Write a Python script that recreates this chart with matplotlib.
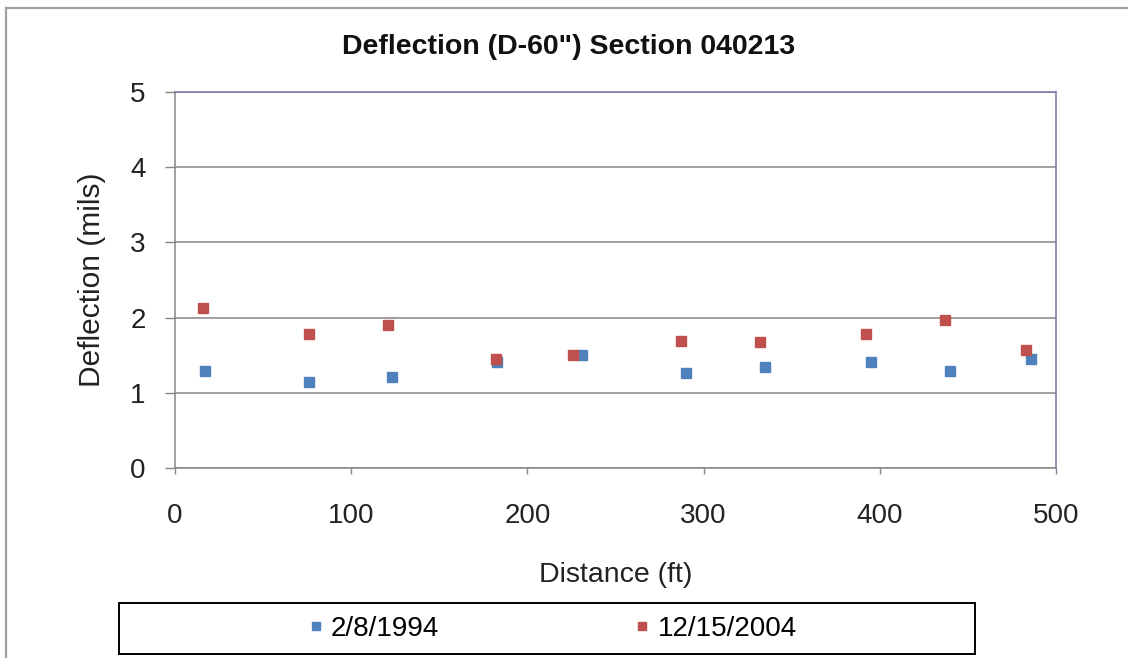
import numpy as np
import matplotlib
matplotlib.use("Agg")
import matplotlib.pyplot as plt
from matplotlib.lines import Line2D
from matplotlib.patches import Rectangle

plt.rcParams['font.family'] = ['Liberation Sans', 'DejaVu Sans']

# data
dist_1994 = [17, 76, 123, 183, 231, 290, 335, 395, 440, 486]
defl_1994 = [1.29, 1.15, 1.21, 1.41, 1.50, 1.26, 1.34, 1.41, 1.29, 1.45]
dist_2004 = [16, 76, 121, 182, 226, 287, 332, 392, 437, 483]
defl_2004 = [2.13, 1.78, 1.90, 1.45, 1.50, 1.69, 1.67, 1.78, 1.97, 1.57]
labels = ['2/8/1994', '12/15/2004']
colors = ['#4F81BD', '#C0504D']

W, H = 1128, 658
fig = plt.figure(figsize=(W / 100, H / 100), dpi=100)
ax = fig.add_axes([175 / W, 1 - 468 / H, (1056 - 175) / W, (468 - 92) / H])

ax.plot(dist_1994, defl_1994, 's', ms=7, color=colors[0], mec=colors[0], label=labels[0])
ax.plot(dist_2004, defl_2004, 's', ms=7, color=colors[1], mec=colors[1], label=labels[1])

ax.set_xlim(0, 500)
ax.set_ylim(0, 5)
ax.set_xticks(np.arange(0, 501, 100))
ax.set_yticks(np.arange(0, 6, 1))
ax.yaxis.grid(True, color='#868686', lw=1.1)
ax.set_axisbelow(True)

for s in ['left', 'bottom']:
    ax.spines[s].set_color('#868686')
    ax.spines[s].set_linewidth(1.1)
for s in ['top', 'right']:
    ax.spines[s].set_color('#7f6fa8')
    ax.spines[s].set_linewidth(1.1)

ax.tick_params(axis='x', direction='out', length=4.5, width=1, color='#868686',
               pad=21, labelsize=20, labelcolor='#222222')
ax.tick_params(axis='y', direction='out', length=7, width=1, color='#868686',
               pad=14, labelsize=20, labelcolor='#222222')

ax.set_xlabel('Distance (ft)', fontsize=20.5, color='#222222')
ax.xaxis.set_label_coords(0.5, -0.25)
ax.set_ylabel('Deflection (mils)', fontsize=21.5, color='#222222')
ax.yaxis.set_label_coords(-0.078, 0.5)

fig.text(569 / W, 1 - 47 / H, 'Deflection (D-60") Section 040213', fontsize=20.5,
         fontweight='bold', ha='center', va='center', color='#111111')

# outer chart frame (top and left edges visible)
fig.add_artist(Line2D([6 / W, 1], [1 - 8 / H, 1 - 8 / H], transform=fig.transFigure,
                      color='#a0a0a0', lw=1.6))
fig.add_artist(Line2D([6 / W, 6 / W], [0, 1 - 8 / H], transform=fig.transFigure,
                      color='#a0a0a0', lw=1.6))

# legend box
fig.add_artist(Rectangle((119 / W, 1 - 654 / H), (975 - 119) / W, (654 - 603) / H,
                         transform=fig.transFigure, fill=False, ec='black', lw=1.4))
ax.legend(loc='center', bbox_to_anchor=(552 / W, 1 - 628.5 / H), bbox_transform=fig.transFigure,
          ncol=2, frameon=False, fontsize=20, markerscale=0.8, handlelength=0.6,
          handletextpad=0.25, columnspacing=7.0, borderpad=0)

fig.savefig('out.png', dpi=100)
